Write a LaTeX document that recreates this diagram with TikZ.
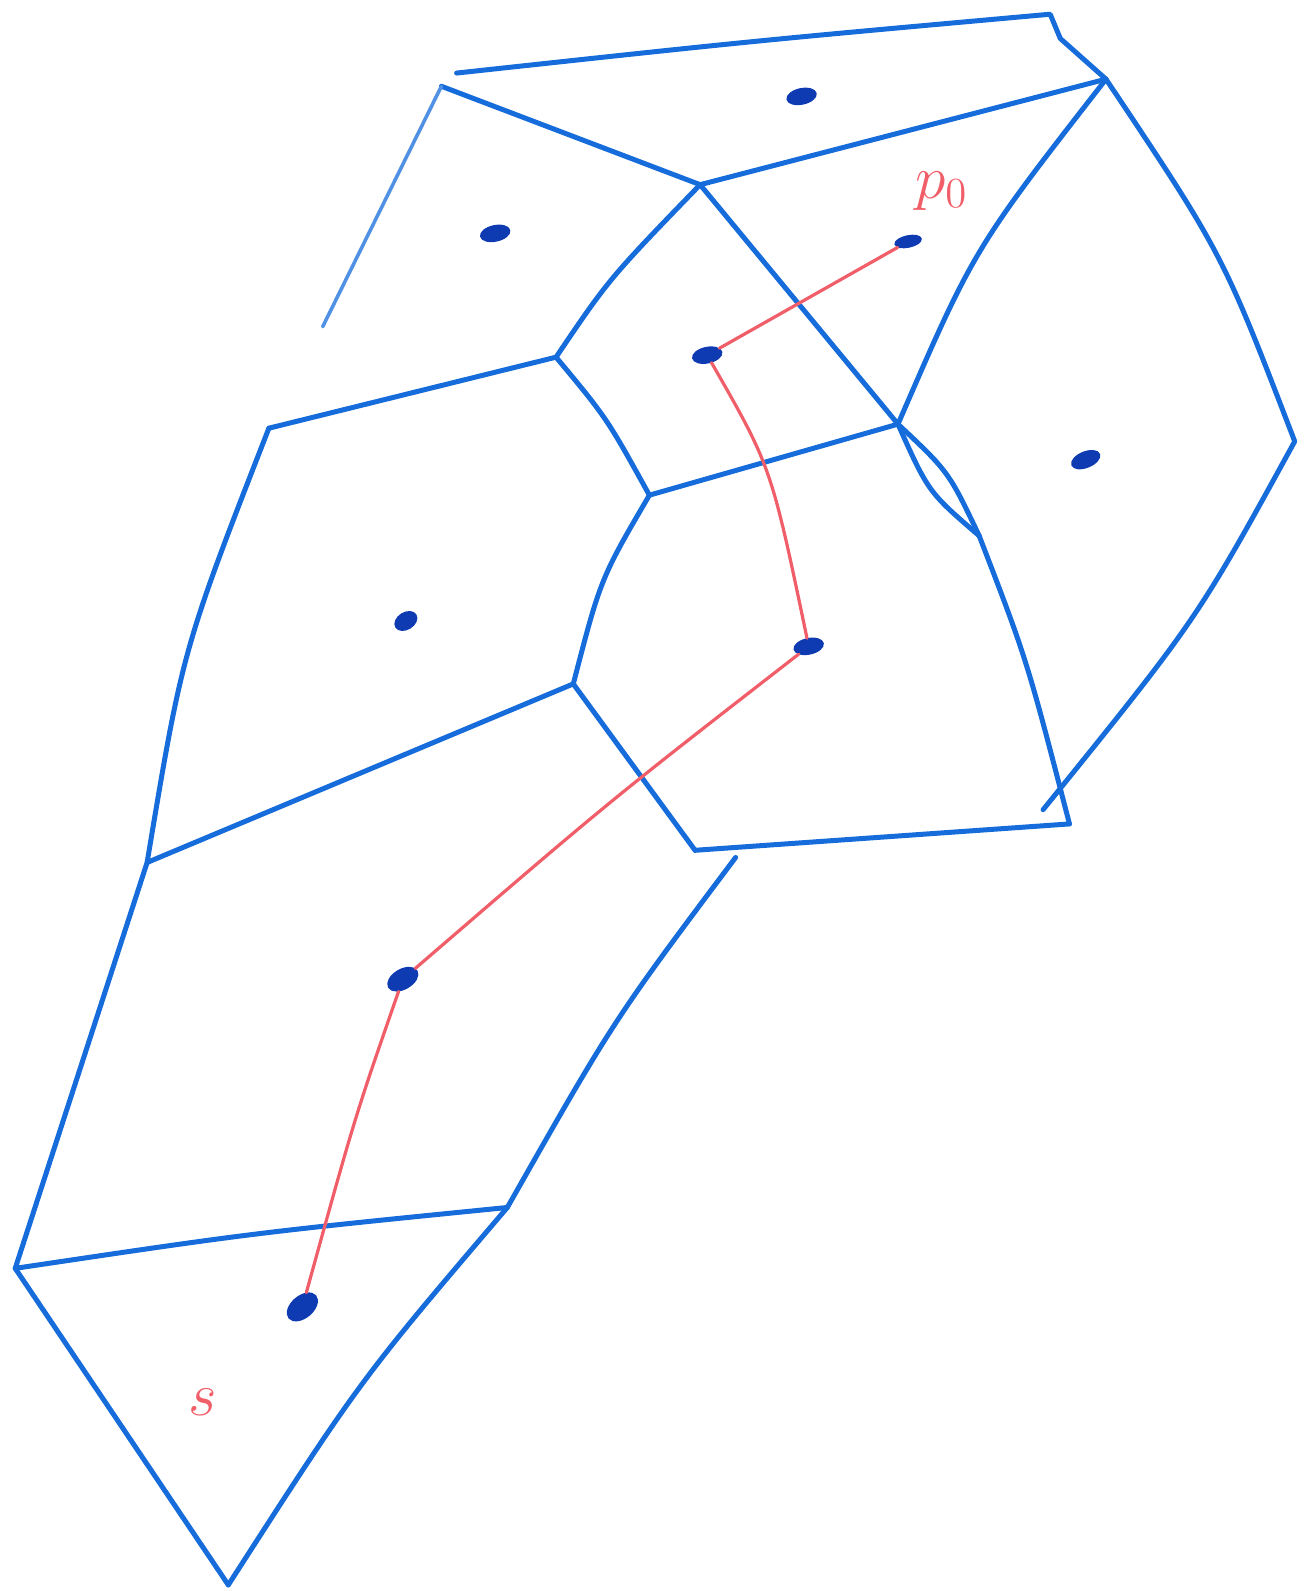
\documentclass[tikz,border=0pt]{standalone}
\usepackage{xcolor}
\usepackage{tikz}
\usetikzlibrary{shapes.geometric}
\definecolor{cellBlue}{RGB}{22,108,218}
\definecolor{siteBlue}{RGB}{14,58,178}
\definecolor{pathRed}{RGB}{240,95,105}

\begin{document}
\begin{tikzpicture}[x=0.1mm,y=-0.1mm,
          edge/.style={draw=cellBlue,line width=1.4pt,line cap=round,line join=round},
          faint/.style={draw=cellBlue!75,line width=1pt,line cap=round},
          site/.style={ellipse,fill=siteBlue,draw=siteBlue,inner sep=0pt,
                       minimum width=2.9mm,minimum height=1.5mm,rotate=12},
          route/.style={draw=pathRed,line width=0.9pt,line cap=round},
          lbl/.style={text=pathRed,font=\LARGE},
        ]
        \useasboundingbox (0,0) rectangle (1287,1568);
        % Vertices
        \coordinate (T1) at (450,72);
        \coordinate (T2) at (1035,14);
        \coordinate (B)  at (1090,78);
        \coordinate (C)  at (435,85);
        \coordinate (A)  at (690,182);
        \coordinate (Cl) at (318,322);
        \coordinate (D)  at (548,352);
        \coordinate (E)  at (885,418);
        \coordinate (L)  at (1276,435);
        \coordinate (G)  at (265,422);
        \coordinate (F)  at (640,488);
        \coordinate (M)  at (965,528);
        \coordinate (H)  at (565,674);
        \coordinate (J)  at (685,838);
        \coordinate (K)  at (1054,812);
        \coordinate (Le) at (1028,798);
        \coordinate (I)  at (145,850);
        \coordinate (N)  at (725,845);
        \coordinate (P)  at (500,1190);
        \coordinate (Q)  at (15,1250);
        \coordinate (R)  at (225,1562);
        % Cell edges
        \draw[edge] (T1) .. controls (745,40) .. (T2) -- (1045,38) -- (B);
        \draw[edge] (C) -- (A) -- (B);
        \draw[faint] (C) -- (Cl);
        \draw[edge] (A) .. controls (600,275) .. (D);
        \draw[edge] (A) -- (E);
        \draw[edge] (B) .. controls (960,245) .. (E);
        \draw[edge] (B) .. controls (1205,250) .. (L) .. controls (1180,610) .. (Le);
        \draw[edge] (D) -- (G);
        \draw[edge] (D) .. controls (598,412) .. (F) -- (E);
        \draw[edge] (E) .. controls (915,485) .. (M);
        \draw[edge] (E) .. controls (935,465) .. (M);
        \draw[edge] (M) .. controls (1012,650) .. (K);
        \draw[edge] (J) -- (K);
        \draw[edge] (F) .. controls (592,570) .. (H) -- (J);
        \draw[edge] (H) -- (I);
        \draw[edge] (G) .. controls (180,640) .. (I) -- (Q);
        \draw[edge] (N) .. controls (605,1005) .. (P);
        \draw[edge] (Q) .. controls (250,1215) .. (P);
        \draw[edge] (P) .. controls (355,1360) .. (R);
        \draw[edge] (Q) -- (R);
        % Sites
        \node[site] (s1) at (790,95) {};
        \node[site] (s2) at (488,230) {};
        \node[site,minimum width=2.6mm,minimum height=1.1mm] (p0) at (895,238) {};
        \node[site] (s4) at (697,350) {};
        \node[site,rotate=10] (s5) at (1070,453) {};
        \node[site,minimum width=2.3mm,minimum height=1.6mm,rotate=20] (s6) at (400,612) {};
        \node[site] (s7) at (797,637) {};
        \node[site,minimum width=3.2mm,minimum height=1.9mm,rotate=18] (s8) at (397,965) {};
        \node[site,minimum width=3.4mm,minimum height=2.1mm,rotate=28] (s) at (298,1288) {};
        % Path
        \draw[route] (p0) -- (s4);
        \draw[route] (s4) .. controls (760,460) .. (s7);
        \draw[route] (s7) .. controls (600,790) .. (s8);
        \draw[route] (s8) .. controls (350,1100) .. (s);
        % Labels
        \node[lbl] (lp0) at (928,188) {$p_0$};
        \node[lbl] (ls)  at (200,1382) {$s$};
      \end{tikzpicture}
\end{document}
